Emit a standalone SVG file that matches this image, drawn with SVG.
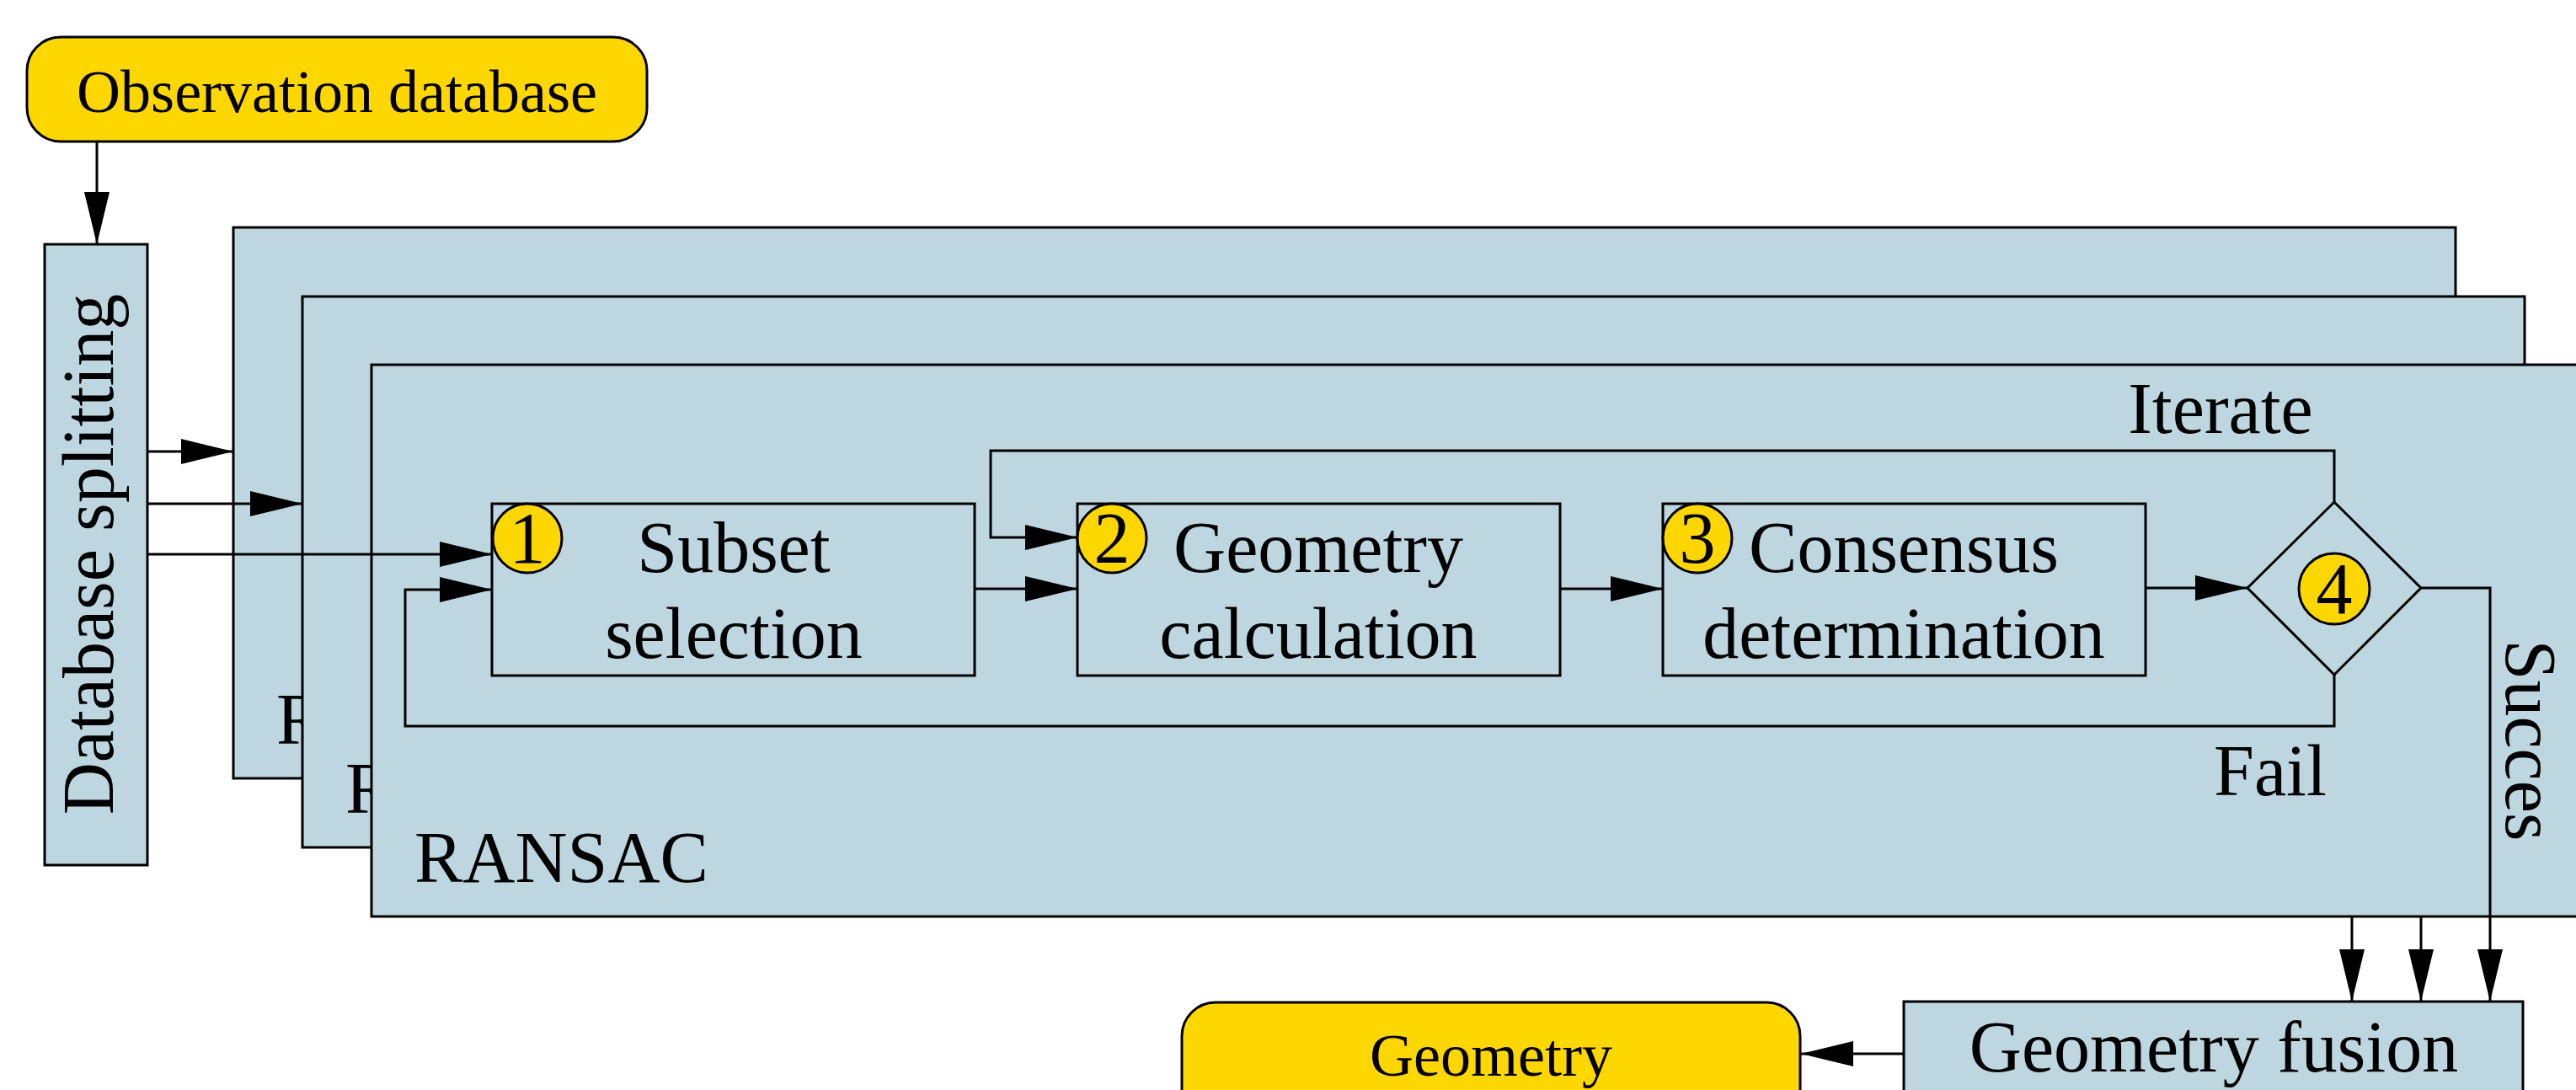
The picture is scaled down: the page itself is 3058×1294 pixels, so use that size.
<svg xmlns="http://www.w3.org/2000/svg" width="3058" height="1294" viewBox="0 0 3058 1294">
<style>
.box{fill:#BED6E0;stroke:#000;stroke-width:3}
.term{fill:#FFD700;stroke:#000;stroke-width:3}
.badge{fill:#FFD700;stroke:#000;stroke-width:3}
.t{font-family:"Liberation Serif","Times New Roman",serif;font-size:86px;fill:#000}
.ts{font-family:"Liberation Serif","Times New Roman",serif;font-size:72px;fill:#000}
.c{text-anchor:middle}
.ln{fill:none;stroke:#000;stroke-width:3}
.arr{marker-end:url(#ah)}
</style>
<defs>
<marker id="ah" markerUnits="userSpaceOnUse" markerWidth="62" markerHeight="30" refX="62" refY="15" orient="auto">
<path d="M0,0 L62,15 L0,30 z" fill="#000"/>
</marker>
</defs>
<rect width="3058" height="1294" fill="#fff"/>

<g id="ransac-1">
<rect class="box" x="277" y="270" width="2638" height="654"/>
<text class="t" x="328" y="883">R</text>
</g>
<g id="ransac-2">
<rect class="box" x="359" y="352" width="2638" height="654"/>
<text class="t" x="410" y="965">R</text>
</g>
<g id="ransac-3">
<rect class="box" x="441" y="433" width="2660" height="655"/>
<text class="t" x="492" y="1047">RANSAC</text>
</g>

<g id="subset-selection">
<rect class="box" x="584" y="598" width="573" height="204"/>
<circle class="badge" cx="626" cy="639" r="41"/>
<text class="t c" x="626" y="668">1</text>
<text class="t c" x="871" y="679">Subset</text>
<text class="t c" x="871" y="781">selection</text>
</g>
<g id="geometry-calculation">
<rect class="box" x="1279" y="598" width="573" height="204"/>
<circle class="badge" cx="1320" cy="639" r="41"/>
<text class="t c" x="1320" y="668">2</text>
<text class="t c" x="1565" y="679">Geometry</text>
<text class="t c" x="1565" y="781">calculation</text>
</g>
<g id="consensus-determination">
<rect class="box" x="1974" y="598" width="573" height="204"/>
<circle class="badge" cx="2015" cy="639" r="41"/>
<text class="t c" x="2015" y="668">3</text>
<text class="t c" x="2260" y="679">Consensus</text>
<text class="t c" x="2260" y="781">determination</text>
</g>
<g id="decision">
<polygon class="box" points="2668,698 2771,596 2874,698 2771,801"/>
<circle class="badge" cx="2771" cy="699" r="42"/>
<text class="t c" x="2771" y="728">4</text>
</g>

<g id="observation-database">
<rect class="term" x="32" y="44" width="736" height="124" rx="40" ry="40"/>
<text class="ts c" x="400" y="133">Observation database</text>
</g>
<g id="database-splitting">
<rect class="box" x="53" y="290" width="122" height="737"/>
<text class="t c" transform="translate(134,658) rotate(-90)">Database splitting</text>
</g>
<g id="geometry-fusion">
<rect class="box" x="2260" y="1189" width="735" height="200"/>
<text class="t c" x="2628" y="1272">Geometry fusion</text>
</g>
<g id="geometry">
<rect class="term" x="1403" y="1190" width="734" height="200" rx="40" ry="40"/>
<text class="ts c" x="1770" y="1277">Geometry</text>
</g>

<g id="connectors">
<line class="ln arr" x1="115" y1="168" x2="115" y2="290"/>
<line class="ln arr" x1="175" y1="536" x2="277" y2="536"/>
<line class="ln arr" x1="175" y1="598" x2="359" y2="598"/>
<line class="ln arr" x1="175" y1="658" x2="584" y2="658"/>
<line class="ln arr" x1="1157" y1="699" x2="1279" y2="699"/>
<line class="ln arr" x1="1852" y1="699" x2="1974" y2="699"/>
<line class="ln arr" x1="2547" y1="698" x2="2668" y2="698"/>
<polyline class="ln arr" points="2771,596 2771,535 1176,535 1176,638 1279,638"/>
<polyline class="ln arr" points="2771,801 2771,862 481,862 481,700 584,700"/>
<polyline class="ln arr" points="2874,698 2956,698 2956,1189"/>
<line class="ln arr" x1="2792" y1="1088" x2="2792" y2="1189"/>
<line class="ln arr" x1="2874" y1="1088" x2="2874" y2="1189"/>
<line class="ln arr" x1="2260" y1="1251" x2="2138" y2="1251"/>
<text class="t c" x="2636" y="514">Iterate</text>
<text class="t c" x="2695" y="944">Fail</text>
<text class="t c" transform="translate(2975,879) rotate(90)">Succes</text>
</g>
</svg>
